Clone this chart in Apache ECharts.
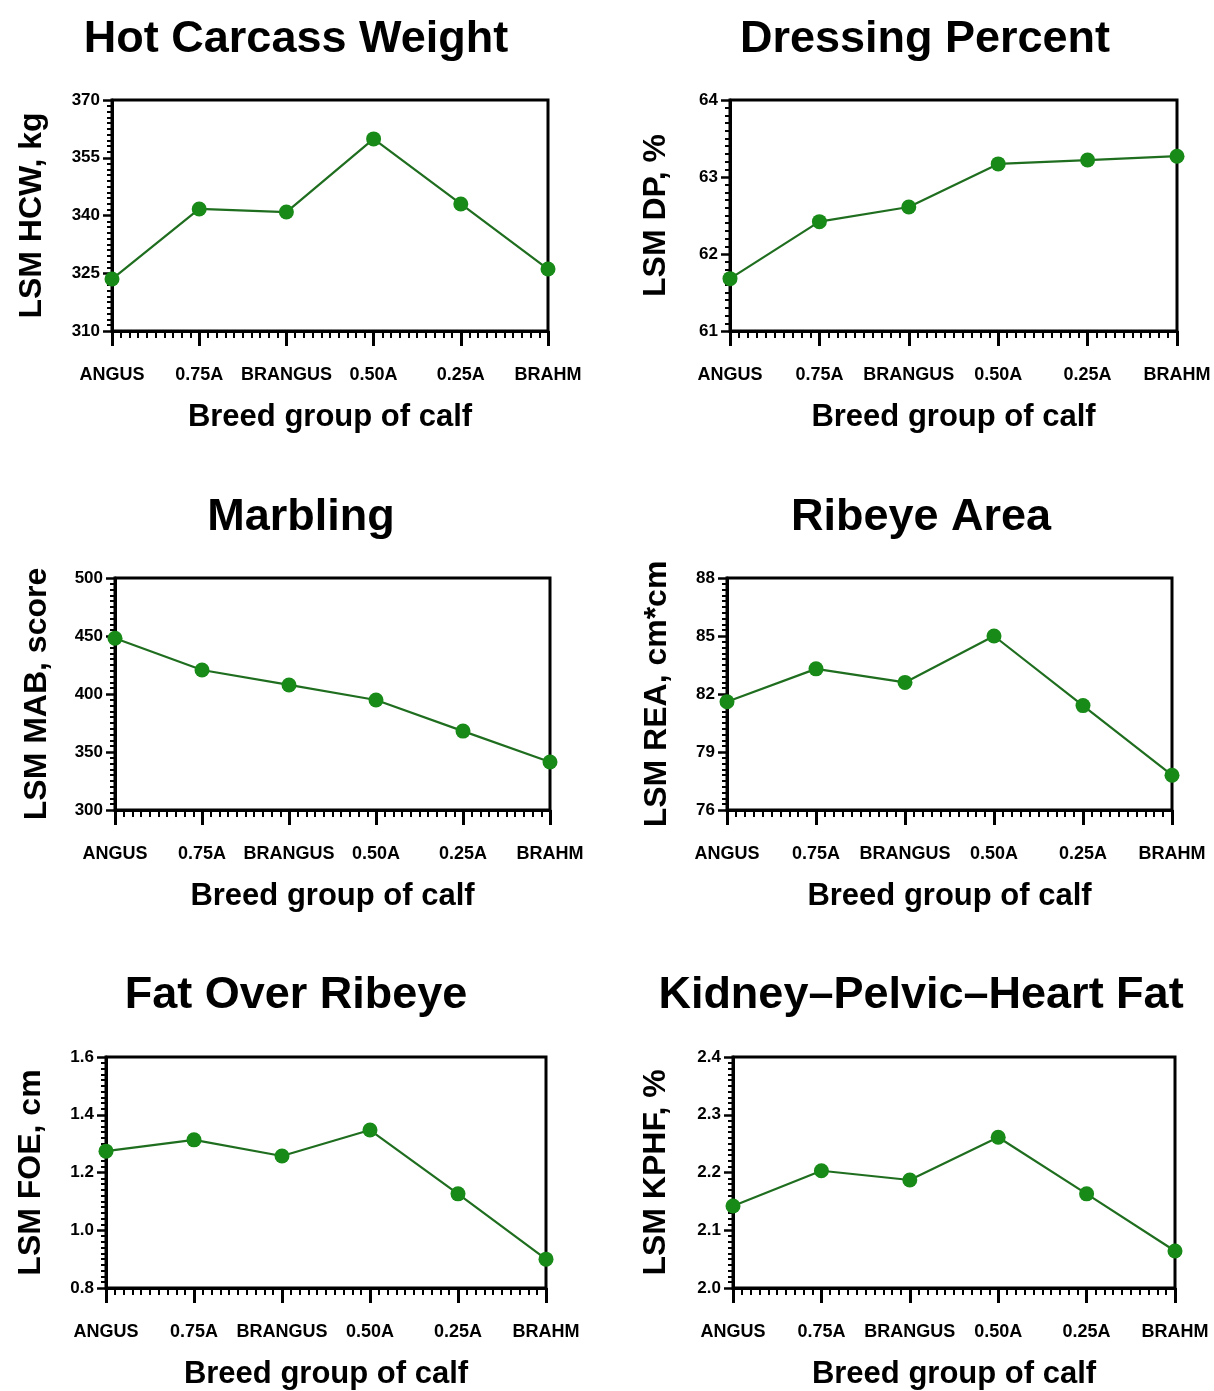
<!DOCTYPE html>
<html>
<head>
<meta charset="utf-8">
<script src="https://cdn.jsdelivr.net/npm/echarts@6/dist/echarts.min.js"></script>
<style>
html,body{margin:0;padding:0;background:#fff;}
#main{width:1214px;height:1391px;}
</style>
</head>
<body>
<div id="main"></div>
<script>
// ---- data ----
const categories = ['ANGUS', '0.75A', 'BRANGUS', '0.50A', '0.25A', 'BRAHM'];
const hcw  = [323.5, 341.7, 340.9, 359.9, 343.0, 326.1];
const dp   = [61.68, 62.42, 62.61, 63.17, 63.22, 63.27];
const mab  = [448, 420.7, 407.8, 394.8, 368, 341.4];
const rea  = [81.6, 83.3, 82.6, 85.0, 81.4, 77.8];
const foe  = [1.274, 1.313, 1.257, 1.347, 1.126, 0.90];
const kphf = [2.142, 2.203, 2.187, 2.261, 2.163, 2.064];

const hcwTicks  = [310, 325, 340, 355, 370];
const dpTicks   = [61, 62, 63, 64];
const mabTicks  = [300, 350, 400, 450, 500];
const reaTicks  = [76, 79, 82, 85, 88];
const foeTicks  = [0.8, 1.0, 1.2, 1.4, 1.6];
const kphfTicks = [2.0, 2.1, 2.2, 2.3, 2.4];

const titles = ['Hot Carcass Weight', 'Dressing Percent', 'Marbling', 'Ribeye Area', 'Fat Over Ribeye', 'Kidney–Pelvic–Heart Fat'];
const yNames = ['LSM HCW, kg', 'LSM DP, %', 'LSM MAB, score', 'LSM REA, cm*cm', 'LSM FOE, cm', 'LSM KPHF, %'];
const xName = 'Breed group of calf';

// ---- layout ----
const panels = [
  {data: hcw,  ticks: hcwTicks,  dec: 0, x0: 112, x1: 548,  y0: 100,  y1: 331,  tx: 291, ty: 12,  yGap: 64},
  {data: dp,   ticks: dpTicks,   dec: 0, x0: 730, x1: 1177, y0: 100,  y1: 331,  tx: 920, ty: 12,  yGap: 58},
  {data: mab,  ticks: mabTicks,  dec: 0, x0: 115, x1: 550,  y0: 578,  y1: 810,  tx: 296, ty: 490, yGap: 62},
  {data: rea,  ticks: reaTicks,  dec: 0, x0: 727, x1: 1172, y0: 578,  y1: 810,  tx: 916, ty: 490, yGap: 54},
  {data: foe,  ticks: foeTicks,  dec: 1, x0: 106, x1: 546,  y0: 1057, y1: 1288, tx: 291, ty: 968, yGap: 59},
  {data: kphf, ticks: kphfTicks, dec: 1, x0: 733, x1: 1175, y0: 1057, y1: 1288, tx: 916, ty: 968, yGap: 61}
];

const FONT = 'Liberation Sans, Arial, Helvetica, sans-serif';
const lineColor = '#1f6e1f';
const markColor = '#188a18';

const option = {
  backgroundColor: '#fff',
  animation: false,
  title: [], grid: [], xAxis: [], yAxis: [], series: []
};

panels.forEach((p, i) => {
  option.title.push({
    text: titles[i], left: p.tx, top: p.ty, textAlign: 'center',
    textStyle: {fontFamily: FONT, fontSize: 45, fontWeight: 'bold', color: '#000'}
  });
  option.grid.push({
    left: p.x0, top: p.y0, width: p.x1 - p.x0, height: p.y1 - p.y0,
    show: true, borderColor: '#000', borderWidth: 3, backgroundColor: 'transparent', containLabel: false
  });
  option.xAxis.push({
    type: 'value', gridIndex: i, min: 0, max: categories.length - 1, interval: 1,
    name: xName, nameLocation: 'middle', nameGap: 71,
    nameTextStyle: {fontFamily: FONT, fontSize: 31, fontWeight: 'bold', color: '#000'},
    axisLine: {show: true, onZero: false, lineStyle: {color: '#000', width: 3}},
    axisTick: {show: true, inside: false, length: 15, lineStyle: {color: '#000', width: 3}},
    minorTick: {show: true, splitNumber: 10, length: 7, lineStyle: {color: '#000', width: 2}},
    splitLine: {show: false},
    axisLabel: {
      show: true, margin: 35, showMinLabel: true, showMaxLabel: true,
      fontFamily: FONT, fontSize: 18, fontWeight: 'bold', color: '#000',
      formatter: v => categories[Math.round(v)] || ''
    }
  });
  const t = p.ticks;
  option.yAxis.push({
    type: 'value', gridIndex: i, min: t[0], max: t[t.length - 1], interval: +(t[1] - t[0]).toFixed(6),
    name: yNames[i], nameLocation: 'middle', nameGap: p.yGap, nameRotate: 90,
    nameTextStyle: {fontFamily: FONT, fontSize: 32, fontWeight: 'bold', color: '#000'},
    axisLine: {show: true, onZero: false, lineStyle: {color: '#000', width: 3}},
    axisTick: {show: true, inside: false, length: 9, lineStyle: {color: '#000', width: 2.5}},
    minorTick: {show: true, splitNumber: 10, length: 5, lineStyle: {color: '#000', width: 2}},
    splitLine: {show: false},
    axisLabel: {
      show: true, margin: 12, showMinLabel: true, showMaxLabel: true,
      fontFamily: FONT, fontSize: 17, fontWeight: 'bold', color: '#000',
      formatter: v => v.toFixed(p.dec)
    }
  });
  option.series.push({
    type: 'line', xAxisIndex: i, yAxisIndex: i,
    data: p.data.map((v, k) => [k, v]),
    symbol: 'circle', symbolSize: 15, clip: false,
    lineStyle: {color: lineColor, width: 2.2},
    itemStyle: {color: markColor}
  });
});

const chart = echarts.init(document.getElementById('main'), null, {renderer: 'canvas'});
chart.setOption(option);
</script>
</body>
</html>
